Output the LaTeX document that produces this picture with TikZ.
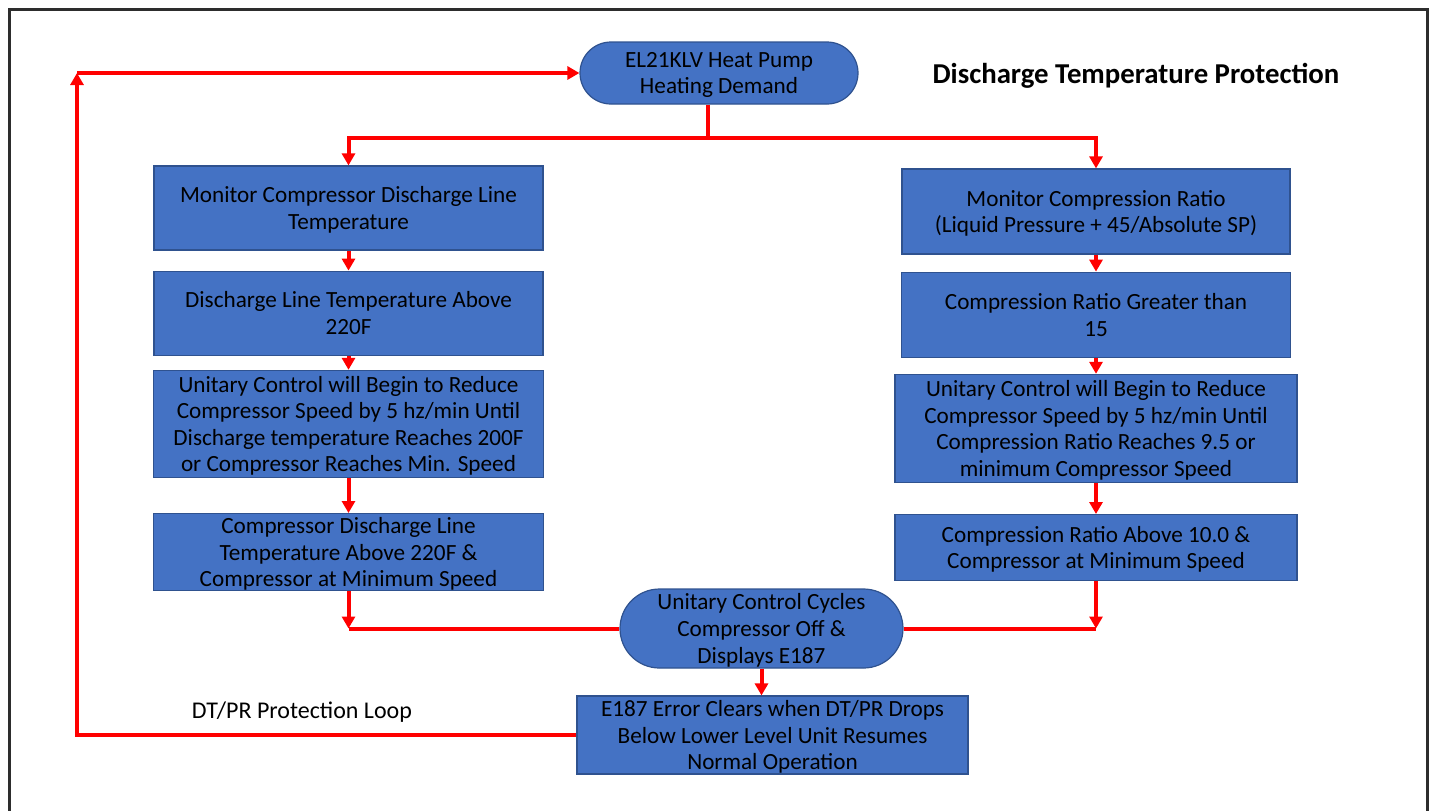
\documentclass[tikz,border=0pt]{standalone}
\usepackage{fontspec}
\setmainfont{Carlito}
\usepackage{tikz}
\usetikzlibrary{arrows.meta,positioning}
\definecolor{BoxBlue}{RGB}{68,114,196}
\definecolor{EdgeBlue}{RGB}{47,82,143}
\definecolor{FlowRed}{RGB}{255,0,0}
\definecolor{FrameGray}{RGB}{45,45,45}

\begin{document}
\begin{tikzpicture}[
  x=0.5pt,y=-0.5pt,
  node distance=10pt,
  box/.style={draw=EdgeBlue,line width=0.6pt,fill=BoxBlue,align=center,inner sep=1pt,
              text depth=0pt,font=\fontsize{11.6}{13.3}\selectfont,text=black},
  pill/.style={box,rounded corners=#1},
  line/.style={draw=FlowRed,line width=2pt},
  arr/.style={line,-{Triangle[length=6pt,width=6.5pt]}},
  lbl/.style={font=\fontsize{12}{14}\selectfont,inner sep=0pt},
  title/.style={font=\fontsize{14.4}{17}\selectfont\bfseries,inner sep=0pt,text depth=0pt}]
  \useasboundingbox (0,0) rectangle (1430,810);
  \draw[FrameGray,line width=1.5pt] (9,812) -- (9,9) -- (1427,9) -- (1427,812);
  \node (demand) [pill=15.5pt,minimum width=139pt,minimum height=31pt] at (719,73)
    {EL21KLV Heat Pump\\Heating Demand};
  \node (title) [title] at (1136,73) {Discharge Temperature Protection};
  \node (montemp) [box,minimum width=194.5pt,minimum height=42pt] at (348.5,208)
    {Monitor Compressor Discharge Line\\Temperature};
  \node (above) [box,minimum width=194.5pt,minimum height=42pt,below=10pt of montemp]
    {Discharge Line Temperature Above\\220F};
  \node (reducedt) [box,minimum width=195pt,minimum height=53.5pt,below=7pt of above]
    {Unitary Control will Begin to Reduce\\Compressor Speed by 5 hz/min Until\\Discharge temperature Reaches 200F\\or Compressor Reaches Min. Speed};
  \node (minspdt) [box,minimum width=195pt,minimum height=38.5pt,below=17.5pt of reducedt]
    {Compressor Discharge Line\\Temperature Above 220F \&\\Compressor at Minimum Speed};
  \node (monratio) [box,minimum width=194pt,minimum height=42.5pt] at (1096,211.5)
    {Monitor Compression Ratio\\(Liquid Pressure + 45/Absolute SP)};
  \node (greater) [box,minimum width=194.5pt,minimum height=42.5pt,below=8.5pt of monratio]
    {Compression Ratio Greater than\\15};
  \node (reducepr) [box,minimum width=201pt,minimum height=54pt,below=8pt of greater]
    {Unitary Control will Begin to Reduce\\Compressor Speed by 5 hz/min Until\\Compression Ratio Reaches 9.5 or\\minimum Compressor Speed};
  \node (minsppr) [box,minimum width=201pt,minimum height=33pt,below=15.5pt of reducepr]
    {Compression Ratio Above 10.0 \&\\Compressor at Minimum Speed};
  \node (cycle) [pill=19.75pt,minimum width=141.5pt,minimum height=39.5pt] at (761.5,628.5)
    {Unitary Control Cycles\\Compressor Off \&\\Displays E187};
  \node (clears) [box,minimum width=195.5pt,minimum height=39pt] at (772.5,735)
    {E187 Error Clears when DT/PR Drops\\Below Lower Level Unit Resumes\\Normal Operation};
  \node (looplbl) [lbl] at (302,712) {DT/PR Protection Loop};
  \coordinate (split) at (708,138);
  \coordinate (ljoin) at (minspdt.south |- cycle.west);
  \coordinate (rjoin) at (minsppr.south |- cycle.west);
  \coordinate (looptop) at (77,73);
  \draw[line] (demand.south -| split) -- (split);
  \draw[arr] (split) -| (montemp.north);
  \draw[arr] (split) -| (monratio.north);
  \draw[arr] (montemp) -- (above);
  \draw[arr] (above) -- (reducedt);
  \draw[arr] (reducedt) -- (minspdt);
  \draw[arr] (monratio) -- (greater);
  \draw[arr] (greater) -- (reducepr);
  \draw[arr] (reducepr) -- (minsppr);
  \draw[arr] (minspdt) -- (ljoin);
  \draw[line] (cycle.west) -- (ljoin);
  \draw[arr] (minsppr) -- (rjoin);
  \draw[line] (cycle.east) -- (rjoin);
  \draw[arr] (cycle.south) -- (cycle.south |- clears.north);
  \draw[arr] (clears.west) -| (looptop);
  \draw[arr] (looptop) -- (demand.west);
\end{tikzpicture}
\end{document}
